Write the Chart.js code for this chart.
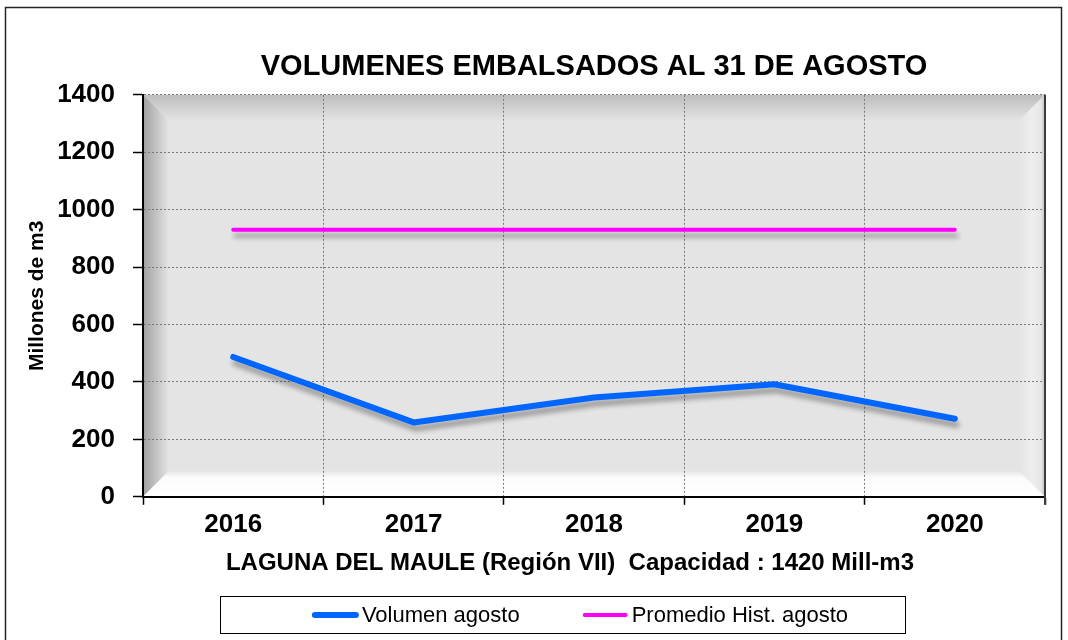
<!DOCTYPE html>
<html lang="es">
<head>
<meta charset="UTF-8">
<title>Volumenes embalsados al 31 de agosto</title>
<script src="https://cdn.jsdelivr.net/npm/chart.js"></script>
<style>
  html, body { margin: 0; padding: 0; background: #fff; }
  #wrap { width: 1068px; height: 640px; }
</style>
</head>
<body>
<div id="wrap"><canvas id="chart" width="1068" height="640"></canvas></div>
<script>
const years = ['2016', '2017', '2018', '2019', '2020'];
const volumenAgosto = [487, 259, 346, 392, 272];
const promedioHist = [930, 930, 930, 930, 930];
const yTicks = [0, 200, 400, 600, 800, 1000, 1200, 1400];

const FONT = '"Liberation Sans", Arial, sans-serif';

// gray bevelled plot background, frame, x title and legend box
const decor = {
  id: 'decor',
  beforeDraw(chart) {
    const { ctx, chartArea: a } = chart;
    const L = a.left, R = a.right, T = a.top, B = a.bottom, w = 26;
    ctx.save();
    ctx.fillStyle = '#e4e4e4';
    ctx.fillRect(L, T, R - L, B - T);

    let g = ctx.createLinearGradient(0, T, 0, T + w);
    g.addColorStop(0, '#bdbdbd'); g.addColorStop(1, '#e4e4e4');
    ctx.fillStyle = g;
    ctx.beginPath(); ctx.moveTo(L, T); ctx.lineTo(R, T); ctx.lineTo(R - w, T + w); ctx.lineTo(L + w, T + w); ctx.fill();

    g = ctx.createLinearGradient(L, 0, L + w, 0);
    g.addColorStop(0, '#a0a0a0'); g.addColorStop(1, '#e4e4e4');
    ctx.fillStyle = g;
    ctx.beginPath(); ctx.moveTo(L, T); ctx.lineTo(L + w, T + w); ctx.lineTo(L + w, B - w); ctx.lineTo(L, B); ctx.fill();

    g = ctx.createLinearGradient(0, B - w, 0, B);
    g.addColorStop(0, '#e4e4e4'); g.addColorStop(0.25, '#fbfbfb'); g.addColorStop(1, '#ffffff');
    ctx.fillStyle = g;
    ctx.beginPath(); ctx.moveTo(L, B); ctx.lineTo(L + w, B - w); ctx.lineTo(R - w, B - w); ctx.lineTo(R, B); ctx.fill();

    g = ctx.createLinearGradient(R - w, 0, R, 0);
    g.addColorStop(0, '#e4e4e4'); g.addColorStop(0.5, '#eeeeee'); g.addColorStop(0.85, '#e6e6e6'); g.addColorStop(1, '#bdbdbd');
    ctx.fillStyle = g;
    ctx.beginPath(); ctx.moveTo(R, T); ctx.lineTo(R, B); ctx.lineTo(R - w, B - w); ctx.lineTo(R - w, T + w); ctx.fill();
    ctx.restore();
  },
  beforeDatasetsDraw(chart) {
    const ctx = chart.ctx;
    ctx.save();
    ctx.shadowColor = 'rgba(0,0,0,0.32)';
    ctx.shadowBlur = 5;
    ctx.shadowOffsetX = 2;
    ctx.shadowOffsetY = 6;
  },
  afterDatasetsDraw(chart) {
    chart.ctx.restore();
  },
  afterDraw(chart) {
    const { ctx, chartArea: a } = chart;
    ctx.save();
    // right edge of plot
    ctx.strokeStyle = '#3a3a3a';
    ctx.lineWidth = 2;
    ctx.beginPath(); ctx.moveTo(a.right, a.top); ctx.lineTo(a.right, a.bottom + 8); ctx.stroke();

    // outer frame
    ctx.strokeStyle = '#262626';
    ctx.lineWidth = 1.5;
    ctx.strokeRect(5.5, 7.5, 1056, 650);

    // x axis title
    ctx.fillStyle = '#000';
    ctx.font = 'bold 24px ' + FONT;
    ctx.textAlign = 'center';
    ctx.textBaseline = 'middle';
    ctx.fillText('LAGUNA DEL MAULE (Región VII)  Capacidad : 1420 Mill-m3', 570, 563);

    // legend
    const cx = 580, cy = 615;
    ctx.strokeStyle = '#000';
    ctx.lineWidth = 1;
    ctx.strokeRect(220.5, 596.5, 685, 37);
    ctx.font = '22px ' + FONT;
    const items = chart.data.datasets.map(d => ({ label: d.label, color: d.borderColor, lw: d.borderWidth, tw: ctx.measureText(d.label).width }));
    const lineLen = 47, gapText = 3, gapItem = 62;
    let total = items.reduce((s, it) => s + lineLen + gapText + it.tw, 0) + gapItem * (items.length - 1);
    let x = cx - total / 2;
    ctx.textAlign = 'left';
    ctx.lineCap = 'round';
    items.forEach(it => {
      ctx.strokeStyle = it.color;
      ctx.lineWidth = it.lw;
      ctx.beginPath(); ctx.moveTo(x + 3, cy); ctx.lineTo(x + lineLen - 3, cy); ctx.stroke();
      ctx.fillStyle = '#000';
      ctx.fillText(it.label, x + lineLen + gapText, cy + 1);
      x += lineLen + gapText + it.tw + gapItem;
    });
    ctx.restore();
  }
};

new Chart(document.getElementById('chart'), {
  type: 'line',
  data: {
    labels: years,
    datasets: [
      {
        label: 'Volumen agosto',
        data: volumenAgosto,
        borderColor: '#0066ff',
        backgroundColor: '#0066ff',
        borderWidth: 6,
        borderCapStyle: 'round',
        borderJoinStyle: 'round',
        pointRadius: 0,
        tension: 0
      },
      {
        label: 'Promedio Hist. agosto',
        data: promedioHist,
        borderColor: '#ff00ff',
        backgroundColor: '#ff00ff',
        borderWidth: 4,
        borderCapStyle: 'round',
        pointRadius: 0,
        tension: 0
      }
    ]
  },
  options: {
    responsive: false,
    animation: false,
    layout: { padding: { top: 50, left: 21, right: 23, bottom: 96 } },
    plugins: {
      legend: { display: false },
      tooltip: { enabled: false },
      title: {
        display: true,
        text: 'VOLUMENES EMBALSADOS AL 31 DE AGOSTO',
        fullSize: false,
        color: '#000',
        font: { family: FONT, size: 29, weight: 'bold' },
        padding: { top: 0, bottom: 10 }
      }
    },
    scales: {
      x: {
        offset: true,
        grid: {
          offset: true,
          color: '#7a7a7a',
          tickColor: '#000',
          tickLength: 8,
          tickWidth: 1.5
        },
        border: { color: '#000', width: 2, dash: [2, 2] },
        ticks: {
          color: '#000',
          padding: 4,
          maxRotation: 0,
          font: { family: FONT, size: 26, weight: 'bold' }
        }
      },
      y: {
        min: 0,
        max: 1400,
        afterFit(scale) { scale.width = 122; },
        afterBuildTicks(scale) { scale.ticks = yTicks.map(v => ({ value: v })); },
        grid: {
          color: '#7a7a7a',
          tickColor: '#000',
          tickLength: 10,
          tickWidth: 1.5
        },
        border: { color: '#000', width: 2, dash: [2, 2] },
        ticks: {
          color: '#000',
          padding: 18,
          callback: v => String(v),
          font: { family: FONT, size: 26, weight: 'bold' }
        },
        title: {
          display: true,
          text: 'Millones de m3',
          color: '#000',
          font: { family: FONT, size: 21, weight: 'bold' }
        }
      }
    }
  },
  plugins: [decor]
});
</script>
</body>
</html>
